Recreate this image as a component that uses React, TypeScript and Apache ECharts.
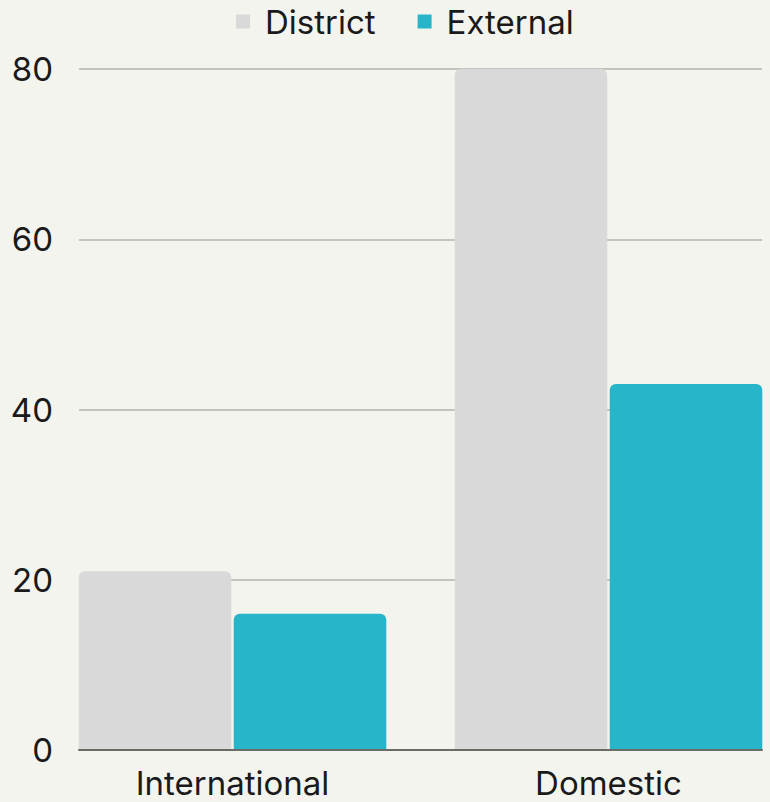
import React, { useEffect, useRef } from "react";
import * as echarts from "echarts";

const categories = ["International", "Domestic"];
const districtValues = [21, 80];
const externalValues = [16, 43];
const seriesNames = ["District", "External"];
const yTicks = { min: 0, max: 80, interval: 20 };

export default function App() {
  const ref = useRef<HTMLDivElement>(null);
  useEffect(() => {
    document.body.style.margin = "0";
    document.body.style.background = "#f4f4ef";
    if (!ref.current) return;
    const chart = echarts.init(ref.current, null, { renderer: "svg" });
    const font = "Inter";
    const fs = 33;
    chart.setOption({
      animation: false,
      backgroundColor: "#f4f4ef",
      textStyle: { fontFamily: font },
      legend: {
        top: 0,
        left: 231,
        icon: "rect",
        itemWidth: 14,
        itemHeight: 14,
        itemGap: 42,
        textStyle: { fontSize: fs, color: "#1a1a1a", fontFamily: font, padding: [0, 0, 0, 10] },
        data: seriesNames,
      },
      grid: [
        { left: 79, right: 8, top: 69, bottom: 52, outerBoundsMode: "none" },
        { left: 44.5, width: 752, top: 69, bottom: 52, outerBoundsMode: "none" },
      ],
      xAxis: [
        {
          type: "category",
          gridIndex: 0,
          data: categories,
          axisLine: { show: true, lineStyle: { color: "#6b6b66", width: 2 } },
          axisTick: { show: false },
          axisLabel: { show: false },
          z: 5,
        },
        {
          type: "category",
          gridIndex: 1,
          data: categories,
          axisLine: { show: false },
          axisTick: { show: false },
          axisLabel: { fontSize: fs, lineHeight: 30, color: "#1a1a1a", margin: 18, fontFamily: font },
        },
      ],
      yAxis: [
        {
          type: "value",
          gridIndex: 0,
          min: yTicks.min,
          max: yTicks.max,
          interval: yTicks.interval,
          axisLine: { show: false },
          axisTick: { show: false },
          axisLabel: { fontSize: fs, color: "#1a1a1a", margin: 26, fontFamily: font },
          splitLine: { lineStyle: { color: "#b5b5ad", width: 1.5 } },
        },
        {
          type: "value",
          gridIndex: 1,
          min: yTicks.min,
          max: yTicks.max,
          interval: yTicks.interval,
          show: false,
          splitLine: { show: false },
        },
      ],
      series: [
        {
          name: seriesNames[0],
          type: "bar",
          xAxisIndex: 1,
          yAxisIndex: 1,
          data: districtValues,
          barCategoryGap: "18.2%",
          barGap: "1.6%",
          itemStyle: { color: "#d9d9d9", borderRadius: [6, 6, 0, 0] },
        },
        {
          name: seriesNames[1],
          type: "bar",
          xAxisIndex: 1,
          yAxisIndex: 1,
          data: externalValues,
          barCategoryGap: "18.2%",
          barGap: "1.6%",
          itemStyle: { color: "#27b6c9", borderRadius: [6, 6, 0, 0] },
        },
      ],
    });
    return () => chart.dispose();
  }, []);
  return <div ref={ref} style={{ width: 770, height: 802 }} />;
}
